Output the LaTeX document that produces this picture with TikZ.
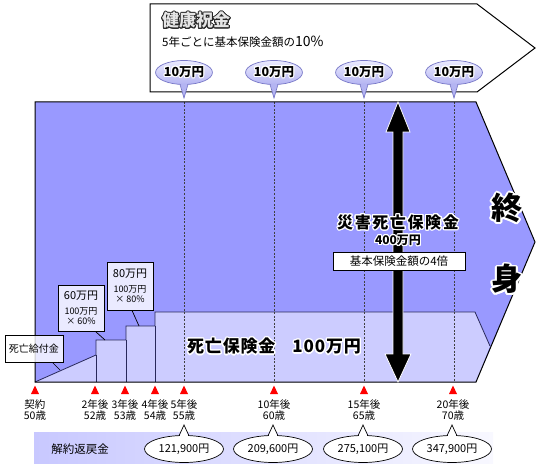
\documentclass[tikz,border=0pt]{standalone}
\usepackage{fontspec}
\setmainfont{Noto Sans CJK JP}
\usepackage[copies]{contour}
\contourlength{1pt}
\usetikzlibrary{shapes.geometric,calc}
\definecolor{mainblue}{RGB}{153,153,255}
\definecolor{lightblue}{RGB}{204,204,255}
\definecolor{edgeblue}{RGB}{40,40,90}
\definecolor{bubtop}{RGB}{235,235,255}
\definecolor{bubbot}{RGB}{180,180,242}
\definecolor{bubedge}{RGB}{120,120,200}
\definecolor{bandleft}{RGB}{200,200,255}
\definecolor{bandright}{RGB}{248,248,255}
\newcommand{\fs}[1]{\fontsize{#1}{#1}\selectfont}
\tikzset{
  outline/.style={draw=black, line width=1pt},
  dashline/.style={draw=black!75, line width=0.6pt, dash pattern=on 2pt off 1.5pt},
  stepline/.style={draw=edgeblue, line width=0.8pt},
  bubble/.style={ellipse, draw=bubedge, line width=0.7pt, top color=bubtop, bottom color=bubbot, minimum width=48pt, minimum height=24pt, inner sep=0pt, font=\fs{12.5}\bfseries},
  amount/.style={ellipse, draw=black, line width=0.7pt, fill=white, minimum width=79pt, minimum height=27pt, inner sep=0pt, font=\fs{11}},
  ticklabel/.style={align=center, font=\fontsize{10.5}{11.5}\selectfont, inner sep=0pt},
  notebox/.style={draw=black, line width=0.8pt, fill=white, fill opacity=0.8, text opacity=1, align=center, inner sep=0pt},
  leader/.style={draw=black, line width=0.7pt},
  redtri/.style={fill=red},
}
\begin{document}
\begin{tikzpicture}[x=1pt,y=-1pt]
\useasboundingbox (0,0) rectangle (543,465);
% banner
\draw[outline, fill=white] (150,4) -- (477,4) -- (535,48) -- (477,92) -- (150,92) -- cycle;
\node[anchor=west, inner sep=0pt, font=\fs{17}\bfseries] (title) at (162,21) {\color{black!10}\contour{black!85}{健康祝金}};
\node[anchor=west, inner sep=0pt, font=\fs{11.5}] (sub) at (162,42) {5年ごとに基本保険金額の{\fs{14}10\%}};
% main block
\fill[mainblue] (35,102) -- (476,102) -- (535,242) -- (476,382) -- (35,382) -- cycle;
\fill[lightblue] (35,382) -- (96,355) -- (96,340) -- (126,340) -- (126,326) -- (155,326) -- (155,312) -- (475,312) -- (490,346) -- (476,382) -- cycle;
\draw[stepline] (35,382) -- (96,355) -- (96,340) -- (126,340) -- (126,326) -- (155,326) -- (155,312) -- (475,312) -- (490,346);
\draw[stepline] (96,355) -- (96,382) (126,340) -- (126,382) (155,326) -- (155,382);
\foreach \x in {184,274,364,454} {\draw[dashline] (\x,102) -- (\x,382);}
\draw[outline] (35,102) -- (476,102) -- (535,242) -- (476,382) -- (35,382) -- cycle;
% bubbles
\foreach \x/\n in {184/1,274/2,364/3,454/4} {
  \coordinate (tip\n) at (\x,98);
  \fill[bubbot] (\x-4,82) -- (tip\n) -- (\x+4,82) -- cycle;
  \node[bubble] (bub\n) at (\x,72.5) {\contour{white}{10万円}};
  \fill[bubbot] (\x-3.6,83.8) -- (tip\n) -- (\x+3.6,83.8) -- cycle;
  \draw[draw=bubedge, line width=0.7pt] (\x-4,84.3) -- (tip\n) -- (\x+4,84.3);
}
% arrow
\fill[black, draw=white, line width=0.8pt] (398,102) -- (410,132) -- (403,132) -- (403,354) -- (411,354) -- (398,382) -- (385,354) -- (393,354) -- (393,132) -- (386,132) -- cycle;
% texts in main block
\contourlength{1.3pt}
\node[inner sep=0pt, font=\fs{16}\bfseries\addfontfeature{LetterSpace=10}] (saigai) at (398,223) {\contour{white}{災害死亡保険金}};
\contourlength{1pt}
\node[inner sep=0pt, font=\fs{12}\bfseries] (yon) at (398,241) {\contour{white}{400万円}};
\node[draw=black, line width=0.8pt, fill=white, minimum width=132pt, minimum height=18pt, inner sep=0pt, font=\fs{11.5}] (bai) at (399,261) {基本保険金額の4倍};
\contourlength{1.8pt}
\node[inner sep=0pt, font=\fs{31}\bfseries] (shu) at (507,209) {\contour{white}{終}};
\node[inner sep=0pt, font=\fs{31}\bfseries] (shin) at (507,280) {\contour{white}{身}};
\contourlength{1.3pt}
\node[inner sep=0pt, font=\fs{17}\bfseries\addfontfeature{LetterSpace=5}] (shibo) at (274,347) {\contour{white}{死亡保険金\hspace{1em}100万円}};
\contourlength{1pt}
% side notes
\node[notebox, minimum width=58pt, minimum height=27pt, font=\fs{10}] (kyufu) at (34,348.5) {死亡給付金};
\coordinate (k1) at (60,370);
\draw[leader] ([xshift=-11pt]kyufu.south east) -- (k1);
\node[notebox, minimum width=46pt, minimum height=46pt, font=\fontsize{9}{10}\selectfont] (n60) at (81,308) {\fontsize{11}{11}\selectfont 60万円\\[5pt]\fontsize{9}{10}\selectfont 100万円\\× 60\%};
\coordinate (k2) at (105,340);
\draw[leader] ([xshift=-9pt]n60.south east) -- (k2);
\node[notebox, minimum width=46pt, minimum height=48pt, font=\fontsize{9}{10}\selectfont] (n80) at (130,286) {\fontsize{11}{11}\selectfont 80万円\\[5pt]\fontsize{9}{10}\selectfont 100万円\\× 80\%};
\coordinate (k3) at (139,326);
\draw[leader] ([xshift=2pt]n80.south) -- (k3);
% ticks
\foreach \x/\a/\b/\n in {35/契約/50歳/0, 95/2年後/52歳/1, 125/3年後/53歳/2, 155/4年後/54歳/3, 184/5年後/55歳/4, 274/10年後/60歳/5, 364/15年後/65歳/6, 453/20年後/70歳/7} {
  \fill[redtri] (\x-4,394) -- (\x,385.5) -- (\x+4,394) -- cycle;
  \node[ticklabel] (tk\n) at (\x,410) {\a\\\b};
}
% surrender band
\shade[left color=bandleft, right color=bandright] (34,432) rectangle (493,463);
\node[inner sep=0pt, font=\fs{11.5}] (kaiyaku) at (80,449) {解約返戻金};
\foreach \x/\v/\n in {184/121{,}900円/1, 273/209{,}600円/2, 363/275{,}100円/3, 452/347{,}900円/4} {
  \coordinate (up\n) at (\x,425);
  \node[amount] (am\n) at (\x,449) {\v};
  \fill[white] (\x-4.6,437) -- (up\n) -- (\x+4.6,437) -- cycle;
  \draw[draw=black, line width=0.7pt] (\x-5,435.8) -- (up\n) -- (\x+5,435.8);
}
\end{tikzpicture}
\end{document}
